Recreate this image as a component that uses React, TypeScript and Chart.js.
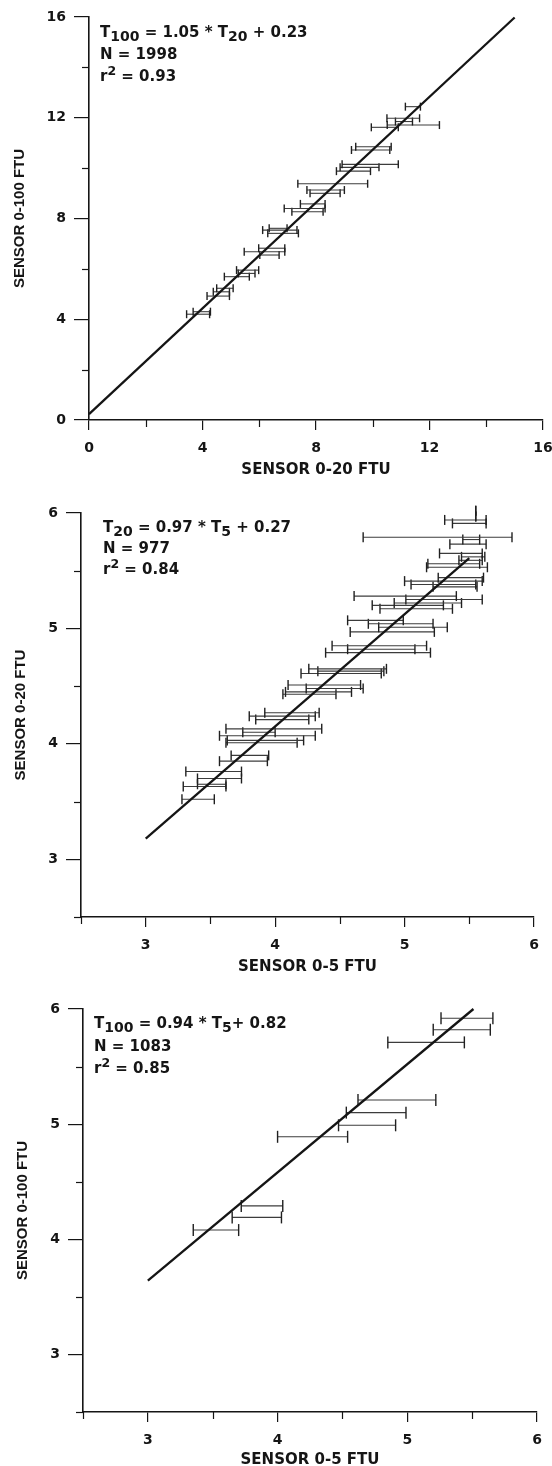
import React, { useEffect, useRef } from "react";
import { Chart, registerables } from "chart.js";

Chart.register(...registerables);

// ---------- Panel 1: SENSOR 0-100 FTU vs SENSOR 0-20 FTU ----------
const p1XMajor = [0, 4, 8, 12, 16];
const p1XMinor = [2, 6, 10, 14];
const p1YMajor = [0, 4, 8, 12, 16];
const p1YMinor = [2, 6, 10, 14];
const p1LineX = [0, 15];
const p1LineY = [0.23, 15.98];
const p1BarY = [12.44, 11.98, 11.85, 11.71, 11.62, 10.85, 10.72, 10.15, 10.03, 9.88, 9.38, 9.13, 9.0, 8.58, 8.4, 8.27, 7.61, 7.54, 7.41, 6.82, 6.68, 6.55, 5.95, 5.82, 5.69, 5.23, 5.09, 4.92, 4.3, 4.2];
const p1BarLow = [11.15, 10.5, 10.8, 10.51, 9.95, 9.4, 9.25, 8.92, 8.85, 8.72, 7.36, 7.68, 7.79, 7.45, 6.88, 7.15, 6.35, 6.12, 6.3, 5.98, 5.47, 6.02, 5.2, 5.26, 4.77, 4.5, 4.38, 4.16, 3.67, 3.44];
const p1BarHigh = [11.68, 11.65, 11.4, 12.35, 10.9, 10.65, 10.6, 10.9, 10.22, 9.92, 9.82, 9.0, 8.85, 8.32, 8.32, 8.25, 6.98, 7.33, 7.38, 6.9, 6.9, 6.7, 5.98, 5.85, 5.65, 5.08, 4.95, 4.95, 4.28, 4.25];

// ---------- Panel 2: SENSOR 0-20 FTU vs SENSOR 0-5 FTU ----------
const p2XMajor = [3, 4, 5, 6];
const p2XMinor = [2.5, 3.5, 4.5, 5.5];
const p2YMajor = [3, 4, 5, 6];
const p2YMinor = [2.5, 3.5, 4.5, 5.5];
const p2LineX = [3, 5.5];
const p2LineY = [3.18, 5.61];
const p2BarY = [6.02, 5.97, 5.94, 5.91, 5.79, 5.77, 5.73, 5.65, 5.62, 5.59, 5.56, 5.53, 5.44, 5.41, 5.38, 5.36, 5.28, 5.25, 5.22, 5.2, 5.17, 5.07, 5.04, 5.01, 4.97, 4.85, 4.82, 4.79, 4.65, 4.63, 4.61, 4.51, 4.48, 4.45, 4.43, 4.27, 4.24, 4.21, 4.13, 4.1, 4.07, 4.03, 4.01, 3.9, 3.85, 3.76, 3.7, 3.65, 3.63, 3.52];
const p2BarLow = [5.55, 5.55, 5.31, 5.37, 4.68, 5.45, 5.35, 5.27, 5.44, 5.42, 5.18, 5.17, 5.26, 5.0, 5.05, 5.22, 4.61, 5.01, 4.92, 4.75, 4.81, 4.56, 4.72, 4.8, 4.58, 4.44, 4.56, 4.39, 4.26, 4.33, 4.2, 4.1, 4.24, 4.08, 4.06, 3.92, 3.8, 3.85, 3.62, 3.75, 3.57, 3.63, 3.62, 3.66, 3.57, 3.31, 3.4, 3.4, 3.29, 3.28];
const p2BarHigh = [5.55, 5.55, 5.63, 5.63, 5.83, 5.58, 5.63, 5.6, 5.62, 5.6, 5.58, 5.64, 5.61, 5.6, 5.55, 5.56, 5.4, 5.6, 5.44, 5.3, 5.37, 4.99, 5.22, 5.33, 5.23, 5.17, 5.08, 5.2, 4.86, 4.84, 4.82, 4.66, 4.68, 4.59, 4.47, 4.34, 4.31, 4.26, 4.36, 4.0, 4.31, 4.22, 4.17, 3.95, 3.94, 3.74, 3.74, 3.62, 3.62, 3.53];

// ---------- Panel 3: SENSOR 0-100 FTU vs SENSOR 0-5 FTU ----------
const p3XMajor = [3, 4, 5, 6];
const p3XMinor = [2.5, 3.5, 4.5, 5.5];
const p3YMajor = [3, 4, 5, 6];
const p3YMinor = [2.5, 3.5, 4.5, 5.5];
const p3LineX = [3, 5.51];
const p3LineY = [3.64, 6.0];
const p3BarY = [5.92, 5.82, 5.71, 5.21, 5.1, 4.99, 4.89, 4.29, 4.19, 4.08];
const p3BarLow = [5.26, 5.2, 4.85, 4.62, 4.53, 4.47, 4.0, 3.72, 3.65, 3.35];
const p3BarHigh = [5.66, 5.64, 5.44, 5.22, 4.99, 4.91, 4.54, 4.04, 4.03, 3.7];

const FONT = "'DejaVu Sans', 'Liberation Sans', Arial, sans-serif";
const YFONT = "'Liberation Sans', Arial, sans-serif";
const INK = "#151515";

const minorTicksPlugin = {
  id: "minorTicks",
  afterDraw(chart: any, _args: any, opts: any) {
    const { ctx, chartArea, scales } = chart;
    ctx.save();
    ctx.strokeStyle = opts.color || INK;
    ctx.lineWidth = opts.width || 1.2;
    (opts.x || []).forEach((v: number) => {
      const px = Math.round(scales.x.getPixelForValue(v)) + 0.5;
      ctx.beginPath();
      ctx.moveTo(px, chartArea.bottom);
      ctx.lineTo(px, chartArea.bottom + opts.xLen);
      ctx.stroke();
    });
    (opts.y || []).forEach((v: number) => {
      const py = Math.round(scales.y.getPixelForValue(v)) + 0.5;
      ctx.beginPath();
      ctx.moveTo(chartArea.left, py);
      ctx.lineTo(chartArea.left - opts.yLen, py);
      ctx.stroke();
    });
    ctx.restore();
  },
};

type PanelCfg = {
  canvasTop: number;
  height: number;
  areaLeft: number;
  areaRight: number;
  areaTop: number;
  areaBottom: number;
  xH: number;
  yTitlePad: number;
  min: number;
  max: number;
  xMajor: number[];
  xMinor: number[];
  yMajor: number[];
  yMinor: number[];
  lineX: number[];
  lineY: number[];
  barY: number[];
  barLow: number[];
  barHigh: number[];
  capR: number;
  xTitle: string;
  yTitle: string;
};

const WIDTH = 552;
const CANVAS_W = 600;

const panels: PanelCfg[] = [
  {
    canvasTop: 0, height: 490, areaLeft: 89, areaRight: 543, areaTop: 17, areaBottom: 420, xH: 58, yTitlePad: 12.5,
    min: 0, max: 16, xMajor: p1XMajor, xMinor: p1XMinor, yMajor: p1YMajor, yMinor: p1YMinor,
    lineX: p1LineX, lineY: p1LineY, barY: p1BarY, barLow: p1BarLow, barHigh: p1BarHigh, capR: 4,
    xTitle: "SENSOR 0-20 FTU", yTitle: "SENSOR 0-100 FTU",
  },
  {
    canvasTop: 488, height: 490, areaLeft: 81, areaRight: 534, areaTop: 25, areaBottom: 429, xH: 58, yTitlePad: 13.5,
    min: 2.5, max: 6, xMajor: p2XMajor, xMinor: p2XMinor, yMajor: p2YMajor, yMinor: p2YMinor,
    lineX: p2LineX, lineY: p2LineY, barY: p2BarY, barLow: p2BarLow, barHigh: p2BarHigh, capR: 5,
    xTitle: "SENSOR 0-5 FTU", yTitle: "SENSOR 0-20 FTU",
  },
  {
    canvasTop: 976, height: 500, areaLeft: 83, areaRight: 537, areaTop: 33, areaBottom: 436, xH: 56, yTitlePad: 15.5,
    min: 2.5, max: 6, xMajor: p3XMajor, xMinor: p3XMinor, yMajor: p3YMajor, yMinor: p3YMinor,
    lineX: p3LineX, lineY: p3LineY, barY: p3BarY, barLow: p3BarLow, barHigh: p3BarHigh, capR: 6,
    xTitle: "SENSOR 0-5 FTU", yTitle: "SENSOR 0-100 FTU",
  },
];

function buildConfig(p: PanelCfg): any {
  const fit = {
    data: [
      { x: p.lineX[0], y: p.lineY[0] },
      { x: p.lineX[1], y: p.lineY[1] },
    ],
    showLine: true,
    borderColor: INK,
    borderWidth: 2.3,
    pointRadius: 0,
    pointHoverRadius: 0,
    clip: 4,
  };
  const bars = p.barY.map((y, i) => ({
    data: [
      { x: p.barLow[i], y },
      { x: p.barHigh[i], y },
    ],
    showLine: true,
    borderColor: "#3c3c3c",
    borderWidth: 1.1,
    pointStyle: "line",
    pointRotation: 90,
    pointRadius: p.capR,
    pointHoverRadius: p.capR,
    pointBorderColor: "#202020",
    pointBorderWidth: 1.4,
    clip: 8,
  }));
  const tickFont = { family: FONT, size: 14, weight: "bold" as const };
  const titleFont = { family: FONT, size: 15, weight: "bold" as const, lineHeight: 1 };
  const yTitleFont = { family: YFONT, size: 15, weight: "bold" as const, lineHeight: 1 };
  return {
    type: "scatter",
    data: { datasets: [fit, ...bars] },
    options: {
      responsive: false,
      animation: false,
      events: [],
      layout: {
        padding: {
          left: 0,
          right: CANVAS_W - p.areaRight,
          top: p.areaTop,
          bottom: p.height - p.areaBottom - p.xH,
        },
      },
      plugins: {
        legend: { display: false },
        tooltip: { enabled: false },
        minorTicks: { x: p.xMinor, y: p.yMinor, xLen: 7, yLen: 7, color: INK, width: 1.2 },
      },
      scales: {
        x: {
          type: "linear",
          position: "bottom",
          min: p.min,
          max: p.max,
          afterBuildTicks: (s: any) => {
            s.ticks = p.xMajor.map((v) => ({ value: v }));
          },
          afterFit: (s: any) => {
            s.height = p.xH;
          },
          grid: { drawOnChartArea: false, drawTicks: true, tickLength: 10, color: INK, lineWidth: 1.2 },
          border: { display: true, color: INK, width: 1.6 },
          ticks: { padding: 10, color: INK, font: tickFont, maxRotation: 0, autoSkip: false, callback: (v: any) => String(v) },
          title: { display: true, text: p.xTitle, color: INK, font: titleFont, padding: { top: 0, bottom: 0 } },
        },
        y: {
          type: "linear",
          position: "left",
          min: p.min,
          max: p.max,
          afterBuildTicks: (s: any) => {
            s.ticks = p.yMajor.map((v) => ({ value: v }));
          },
          afterFit: (s: any) => {
            s.width = p.areaLeft;
          },
          grid: { drawOnChartArea: false, drawTicks: true, tickLength: 15, color: INK, lineWidth: 1.2 },
          border: { display: true, color: INK, width: 1.6 },
          ticks: { padding: 8, color: INK, font: tickFont, autoSkip: false, callback: (v: any) => String(v) },
          title: { display: true, text: p.yTitle, color: INK, font: yTitleFont, padding: { top: p.yTitlePad, bottom: 0 } },
        },
      },
    },
    plugins: [minorTicksPlugin],
  };
}

const subStyle: React.CSSProperties = { fontSize: "14px", position: "relative", top: "4px", lineHeight: 0 };
const supStyle: React.CSSProperties = { fontSize: "12.5px", position: "relative", top: "-6px", lineHeight: 0 };

function Note(props: { left: number; top: number; lh: number; children: React.ReactNode }) {
  return (
    <div
      style={{
        position: "absolute",
        left: props.left,
        top: props.top,
        fontFamily: FONT,
        fontWeight: "bold",
        fontSize: "15px",
        lineHeight: props.lh + "px",
        color: INK,
        whiteSpace: "nowrap",
      }}
    >
      {props.children}
    </div>
  );
}

export default function App() {
  const r1 = useRef<HTMLCanvasElement>(null);
  const r2 = useRef<HTMLCanvasElement>(null);
  const r3 = useRef<HTMLCanvasElement>(null);

  useEffect(() => {
    const refs = [r1, r2, r3];
    const charts = refs.map((r, i) => new Chart(r.current as HTMLCanvasElement, buildConfig(panels[i])));
    return () => charts.forEach((c) => c.destroy());
  }, []);

  return (
    <div style={{ position: "absolute", left: 0, top: 0, width: WIDTH, height: 1466, overflow: "hidden", background: "#fff" }}>
      {[r1, r2, r3].map((r, i) => (
        <canvas
          key={i}
          ref={r}
          width={CANVAS_W}
          height={panels[i].height}
          style={{ position: "absolute", left: 0, top: panels[i].canvasTop, width: CANVAS_W, height: panels[i].height }}
        />
      ))}
      <Note left={100} top={21} lh={22}>
        <div>
          T<span style={subStyle}>100</span> = 1.05 * T<span style={subStyle}>20</span> + 0.23
        </div>
        <div>N = 1998</div>
        <div>
          r<span style={supStyle}>2</span> = 0.93
        </div>
      </Note>
      <Note left={103} top={517} lh={21}>
        <div>
          T<span style={subStyle}>20</span> = 0.97 * T<span style={subStyle}>5</span> + 0.27
        </div>
        <div>N = 977</div>
        <div>
          r<span style={supStyle}>2</span> = 0.84
        </div>
      </Note>
      <Note left={94} top={1012} lh={22.5}>
        <div>
          T<span style={subStyle}>100</span> = 0.94 * T<span style={subStyle}>5</span>+ 0.82
        </div>
        <div>N = 1083</div>
        <div>
          r<span style={supStyle}>2</span> = 0.85
        </div>
      </Note>
    </div>
  );
}
